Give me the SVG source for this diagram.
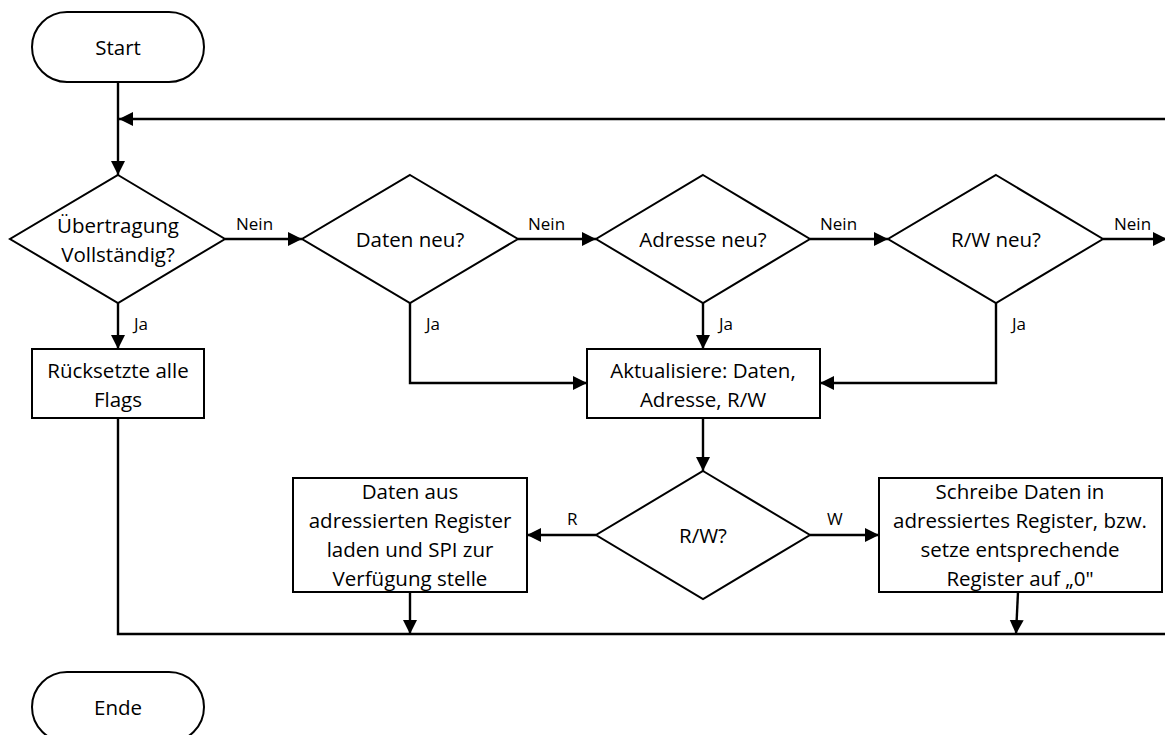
<svg xmlns="http://www.w3.org/2000/svg" width="1165" height="735" viewBox="0 0 1165 735">
<style>
.shape{fill:#fff;stroke:#000;stroke-width:2}
.t{font-family:"Open Sans","Liberation Sans",sans-serif;font-size:20.5px;fill:#000;text-anchor:middle;dominant-baseline:central}
.lbl{font-family:"Open Sans","Liberation Sans",sans-serif;font-size:17px;fill:#000;dominant-baseline:central}
.c{fill:none;stroke:#000;stroke-width:2.4}
</style>
<defs>
<marker id="ah" markerUnits="userSpaceOnUse" markerWidth="15" markerHeight="15" refX="14" refY="7.5" orient="auto">
<path d="M0,0.5 L14,7.5 L0,14.5 z" fill="#000"/>
</marker>
</defs>
<rect width="1165" height="735" fill="#fff"/>
<g id="connectors">
<line class="c" x1="118" y1="82" x2="118" y2="175" marker-end="url(#ah)"/>
<line class="c" x1="1166" y1="119" x2="119" y2="119" marker-end="url(#ah)"/>
<line class="c" x1="225" y1="239" x2="302" y2="239" marker-end="url(#ah)"/>
<line class="c" x1="518" y1="239" x2="596" y2="239" marker-end="url(#ah)"/>
<line class="c" x1="810" y1="239" x2="888" y2="239" marker-end="url(#ah)"/>
<line class="c" x1="1103" y1="239" x2="1167" y2="239" marker-end="url(#ah)"/>
<line class="c" x1="118" y1="303" x2="118" y2="349" marker-end="url(#ah)"/>
<polyline class="c" points="410,303 410,383 587,383" marker-end="url(#ah)"/>
<line class="c" x1="703" y1="303" x2="703" y2="349" marker-end="url(#ah)"/>
<polyline class="c" points="996,303 996,383 820,383" marker-end="url(#ah)"/>
<line class="c" x1="703" y1="418" x2="703" y2="471" marker-end="url(#ah)"/>
<line class="c" x1="596" y1="535" x2="527" y2="535" marker-end="url(#ah)"/>
<line class="c" x1="810" y1="535" x2="879" y2="535" marker-end="url(#ah)"/>
<polyline class="c" points="118,418 118,634 1166,634"/>
<line class="c" x1="410" y1="592" x2="410" y2="634" marker-end="url(#ah)"/>
<line class="c" x1="1018" y1="592" x2="1016" y2="634" marker-end="url(#ah)"/>
<text class="lbl" x="236" y="223">Nein</text>
<text class="lbl" x="528" y="223">Nein</text>
<text class="lbl" x="820" y="223">Nein</text>
<text class="lbl" x="1114" y="223">Nein</text>
<text class="lbl" x="134" y="323">Ja</text>
<text class="lbl" x="426" y="323">Ja</text>
<text class="lbl" x="719" y="323">Ja</text>
<text class="lbl" x="1012" y="323">Ja</text>
<text class="lbl" x="567" y="518">R</text>
<text class="lbl" x="827" y="518">W</text>
</g>
<g id="start">
<rect class="shape" x="32" y="12" width="172" height="70" rx="35" ry="35"/>
<text class="t" x="118" y="47">Start</text>
</g>
<g id="d1">
<polygon class="shape" points="118,175 225,239 118,303 10,239"/>
<text class="t" x="118" y="225">Übertragung</text>
<text class="t" x="118" y="254">Vollständig?</text>
</g>
<g id="d2">
<polygon class="shape" points="410,175 518,239 410,303 302,239"/>
<text class="t" x="410" y="239">Daten neu?</text>
</g>
<g id="d3">
<polygon class="shape" points="703,175 810,239 703,303 596,239"/>
<text class="t" x="703" y="239">Adresse neu?</text>
</g>
<g id="d4">
<polygon class="shape" points="996,175 1103,239 996,303 888,239"/>
<text class="t" x="996" y="239">R/W neu?</text>
</g>
<g id="reset">
<rect class="shape" x="32" y="349" width="172" height="69"/>
<text class="t" x="118" y="370">Rücksetzte alle</text>
<text class="t" x="118" y="399">Flags</text>
</g>
<g id="update">
<rect class="shape" x="587" y="349" width="233" height="69"/>
<text class="t" x="703" y="370">Aktualisiere: Daten,</text>
<text class="t" x="703" y="399">Adresse, R/W</text>
</g>
<g id="rw">
<polygon class="shape" points="703,471 810,535 703,599 596,535"/>
<text class="t" x="703" y="535">R/W?</text>
</g>
<g id="read">
<rect class="shape" x="293" y="478" width="234" height="114"/>
<text class="t" x="410" y="491">Daten aus</text>
<text class="t" x="410" y="520">adressierten Register</text>
<text class="t" x="410" y="549">laden und SPI zur</text>
<text class="t" x="410" y="578">Verfügung stelle</text>
</g>
<g id="write">
<rect class="shape" x="879" y="478" width="283" height="114"/>
<text class="t" x="1020" y="491">Schreibe Daten in</text>
<text class="t" x="1020" y="520">adressiertes Register, bzw.</text>
<text class="t" x="1020" y="549">setze entsprechende</text>
<text class="t" x="1020" y="578">Register auf „0"</text>
</g>
<g id="ende">
<rect class="shape" x="32" y="672" width="172" height="70" rx="35" ry="35"/>
<text class="t" x="118" y="707">Ende</text>
</g>
</svg>
